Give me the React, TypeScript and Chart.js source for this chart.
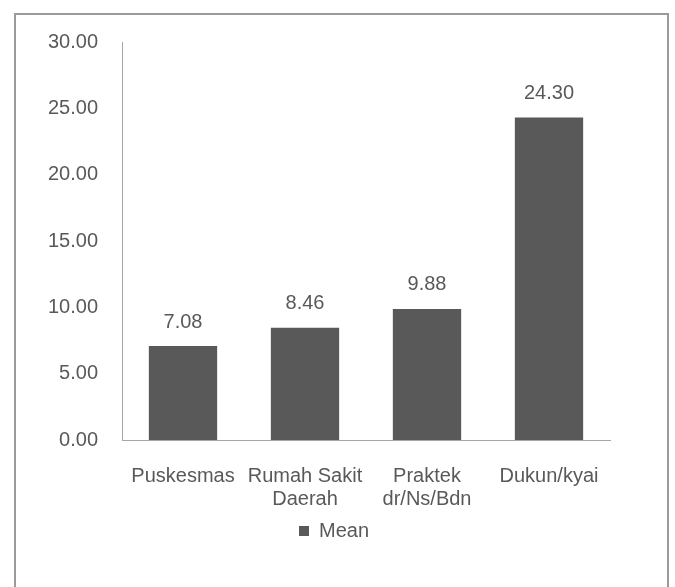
import React, { useEffect, useRef } from "react";
import { Chart, registerables } from "chart.js";

Chart.register(...registerables);

const categories: (string | string[])[] = [
  "Puskesmas",
  ["Rumah Sakit", "Daerah"],
  ["Praktek", "dr/Ns/Bdn"],
  "Dukun/kyai",
];
const seriesName = "Mean";
const meanValues = [7.08, 8.46, 9.88, 24.3];
const yMin = 0;
const yMax = 30;
const yStep = 5;

const FONT = "'Liberation Sans', Arial, sans-serif";
const TEXT = "#595959";
const BAR = "#595959";
const AXIS = "#a6a6a6";

const valueLabels = {
  id: "valueLabels",
  afterDatasetsDraw(chart: any) {
    const ctx = chart.ctx;
    ctx.save();
    ctx.font = `20px ${FONT}`;
    ctx.fillStyle = TEXT;
    ctx.textAlign = "center";
    ctx.textBaseline = "middle";
    chart.data.datasets.forEach((ds: any, di: number) => {
      const meta = chart.getDatasetMeta(di);
      meta.data.forEach((bar: any, i: number) => {
        ctx.fillText(Number(ds.data[i]).toFixed(2), bar.x, bar.y - 24);
      });
    });
    ctx.restore();
  },
};

// shift the legend so it is centred like the reference
const legendShift = {
  id: "legendShift",
  afterLayout(chart: any) {
    const lg = chart.legend;
    if (lg) {
      lg.left += 14;
      lg.right += 14;
    }
  },
};

export default function App() {
  const ref = useRef<HTMLCanvasElement | null>(null);

  useEffect(() => {
    if (!ref.current) return;
    const chart = new Chart(ref.current, {
      type: "bar",
      data: {
        labels: categories,
        datasets: [
          {
            label: seriesName,
            data: meanValues,
            backgroundColor: BAR,
            borderWidth: 0,
            categoryPercentage: 1,
            barPercentage: 0.56,
          },
        ],
      },
      options: {
        responsive: false,
        animation: false,
        layout: { padding: { left: 30, right: 65, top: 42, bottom: 36 } },
        plugins: {
          legend: {
            position: "bottom",
            labels: {
              font: { size: 20, family: FONT },
              color: TEXT,
              boxWidth: 10,
              boxHeight: 10,
              padding: 10,
            },
          },
          tooltip: { enabled: false },
          title: { display: false },
        },
        scales: {
          x: {
            grid: { display: false, drawTicks: false },
            border: { display: true, color: AXIS, width: 1 },
            ticks: {
              color: TEXT,
              font: { size: 20, family: FONT, lineHeight: 1.15 },
              padding: 25,
              maxRotation: 0,
              minRotation: 0,
              autoSkip: false,
            },
            afterFit: (scale: any) => {
              scale.height = 71;
            },
          },
          y: {
            min: yMin,
            max: yMax,
            grid: { display: false, drawTicks: false },
            border: { display: true, color: AXIS, width: 1 },
            ticks: {
              stepSize: yStep,
              color: TEXT,
              font: { size: 20, family: FONT },
              padding: 24,
              callback: (v: any) => Number(v).toFixed(2),
            },
            afterFit: (scale: any) => {
              scale.width = 92;
            },
          },
        },
      },
      plugins: [valueLabels, legendShift],
    });
    return () => chart.destroy();
  }, []);

  return (
    <div
      style={{
        position: "absolute",
        left: 0,
        top: 0,
        width: 675,
        height: 587,
        background: "#ffffff",
        overflow: "hidden",
      }}
    >
      <div
        style={{
          position: "absolute",
          left: 14,
          top: 13,
          width: 651,
          height: 600,
          borderLeft: "2px solid #9a9a9a",
          borderTop: "2px solid #9a9a9a",
          borderRight: "2px solid #9a9a9a",
        }}
      />
      <canvas
        ref={ref}
        width={675}
        height={587}
        style={{ position: "absolute", left: 0, top: 0, width: 675, height: 587 }}
      />
    </div>
  );
}
